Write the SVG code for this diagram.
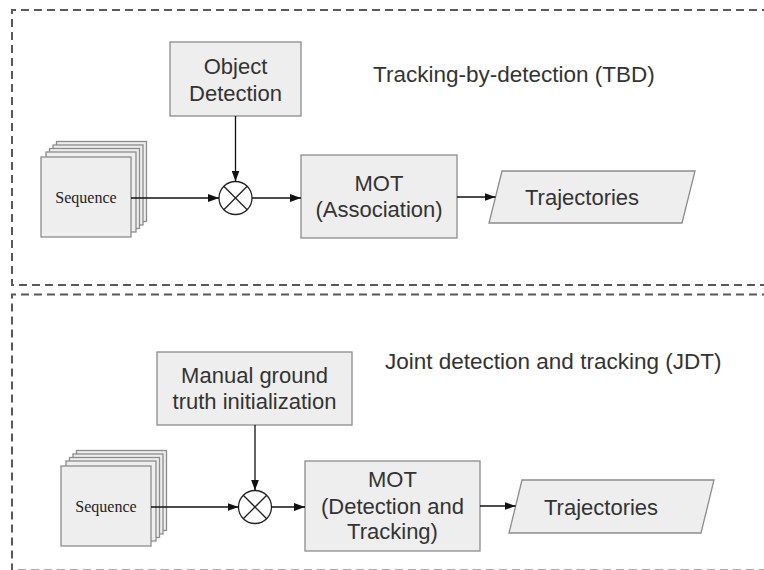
<svg xmlns="http://www.w3.org/2000/svg" width="764" height="570" viewBox="0 0 764 570">
  <style>
    .frame { fill: none; stroke: #595959; stroke-width: 2; stroke-dasharray: 8 5; }
    .box { fill: #eeeeee; stroke: #8c8c8c; stroke-width: 1.3; }
    .lbl { font-family: "Liberation Sans", Arial, sans-serif; font-size: 22px; fill: #333333; }
    .ttl { font-size: 22.5px; }
    .mid { text-anchor: middle; }
    .seq { font-family: "Liberation Serif", "Times New Roman", serif; font-size: 16px; fill: #222222; text-anchor: middle; }
    .wire { fill: none; stroke: #111111; stroke-width: 1.3; }
    .join { fill: #ffffff; stroke: #222222; stroke-width: 1.3; }
    .cross { stroke: #222222; stroke-width: 1.3; }
  </style>
  <defs>
    <marker id="arrow" viewBox="0 0 11 8" refX="11" refY="4" markerWidth="11" markerHeight="8" markerUnits="userSpaceOnUse" orient="auto">
      <path d="M0,0 L11,4 L0,8 Z" fill="#111111"/>
    </marker>
    <!-- stacked frames; front frame at origin, 90x80 -->
    <g id="stack">
      <rect class="box" x="15.5" y="-15.5" width="90" height="80"/>
      <rect class="box" x="12" y="-12" width="90" height="80"/>
      <rect class="box" x="8.5" y="-8.5" width="90" height="80"/>
      <rect class="box" x="5" y="-5" width="90" height="80"/>
      <rect class="box" x="0" y="0" width="90" height="80"/>
    </g>
    <!-- summing junction, radius 16.5 -->
    <g id="junction">
      <circle class="join" cx="0" cy="0" r="16.5"/>
      <line class="cross" x1="-11.7" y1="-11.7" x2="11.7" y2="11.7"/>
      <line class="cross" x1="-11.7" y1="11.7" x2="11.7" y2="-11.7"/>
    </g>
  </defs>

  <rect width="764" height="570" fill="#ffffff"/>

  <!-- section frames -->
  <g id="frames">
    <path class="frame" d="M770,10 H12 V285 H770"/>
    <path class="frame" d="M770,294.5 H12 V570.6 H770"/>
  </g>

  <!-- Tracking-by-detection -->
  <text id="title-tbd" class="lbl ttl" x="373" y="82">Tracking-by-detection (TBD)</text>

  <g id="seq-tbd">
    <use href="#stack" x="41" y="157"/>
    <text class="seq" x="86" y="203">Sequence</text>
  </g>

  <g id="objdet">
    <rect class="box" x="170" y="42" width="131" height="74"/>
    <text class="lbl mid" x="235.5" y="74">Object</text>
    <text class="lbl mid" x="235.5" y="101">Detection</text>
  </g>

  <g id="join-tbd">
    <use href="#junction" x="235.5" y="198"/>
  </g>

  <g id="mot-tbd">
    <rect class="box" x="301" y="155" width="156" height="83"/>
    <text class="lbl mid" x="379" y="191">MOT</text>
    <text class="lbl mid" x="379" y="217">(Association)</text>
  </g>

  <g id="traj-tbd">
    <path class="box" d="M502,171 H695 L682,223 H489 Z"/>
    <text class="lbl" x="525" y="205">Trajectories</text>
  </g>

  <!-- Joint detection and tracking -->
  <text id="title-jdt" class="lbl ttl" x="385" y="369">Joint detection and tracking (JDT)</text>

  <g id="seq-jdt">
    <use href="#stack" x="61" y="466"/>
    <text class="seq" x="106" y="512">Sequence</text>
  </g>

  <g id="manual-gt">
    <rect class="box" x="157" y="352" width="195" height="73"/>
    <text class="lbl mid" x="254.5" y="383">Manual ground</text>
    <text class="lbl mid" x="254.5" y="409">truth initialization</text>
  </g>

  <g id="join-jdt">
    <use href="#junction" x="255" y="507"/>
  </g>

  <g id="mot-jdt">
    <rect class="box" x="305" y="461" width="175" height="90"/>
    <text class="lbl mid" x="392.5" y="487">MOT</text>
    <text class="lbl mid" x="392.5" y="514">(Detection and</text>
    <text class="lbl mid" x="392.5" y="539">Tracking)</text>
  </g>

  <g id="traj-jdt">
    <path class="box" d="M522,480 H714 L701,533 H509 Z"/>
    <text class="lbl" x="544" y="515">Trajectories</text>
  </g>

  <!-- connectors -->
  <g id="connectors">
    <line class="wire" x1="131" y1="198" x2="219" y2="198" marker-end="url(#arrow)"/>
    <line class="wire" x1="235.5" y1="116" x2="235.5" y2="181.5" marker-end="url(#arrow)"/>
    <line class="wire" x1="252" y1="198" x2="301" y2="198" marker-end="url(#arrow)"/>
    <line class="wire" x1="457" y1="197" x2="495.5" y2="197" marker-end="url(#arrow)"/>

    <line class="wire" x1="151" y1="507" x2="238.5" y2="507" marker-end="url(#arrow)"/>
    <line class="wire" x1="255" y1="425" x2="255" y2="490.5" marker-end="url(#arrow)"/>
    <line class="wire" x1="271.5" y1="507" x2="305" y2="507" marker-end="url(#arrow)"/>
    <line class="wire" x1="480" y1="506" x2="515.5" y2="506" marker-end="url(#arrow)"/>
  </g>
</svg>
